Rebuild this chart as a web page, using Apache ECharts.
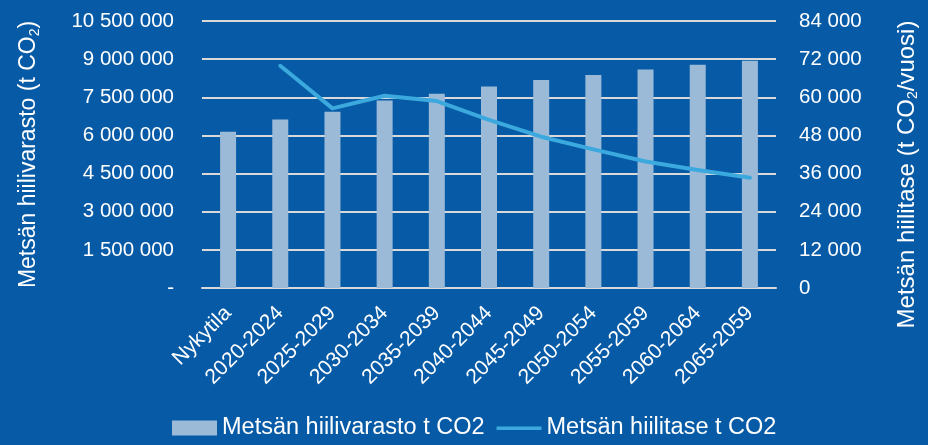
<!DOCTYPE html>
<html>
<head>
<meta charset="utf-8">
<script src="https://cdn.jsdelivr.net/npm/echarts@6/dist/echarts.min.js"></script>
<style>
html,body{margin:0;padding:0;background:#065aa6;}
#chart{width:928px;height:445px;}
</style>
</head>
<body>
<div id="chart"></div>
<script>
var categories = ['Nykytila','2020-2024','2025-2029','2030-2034','2035-2039','2040-2044','2045-2049','2050-2054','2055-2059','2060-2064','2065-2059'];
var hiilivarasto = [6140000, 6630000, 6930000, 7370000, 7640000, 7920000, 8180000, 8380000, 8590000, 8780000, 8940000];
var hiilitase = [null, 69900, 56500, 60500, 58800, 52900, 47600, 43600, 39800, 37100, 34700];
var leftTicks = {min: 0, max: 10500000, interval: 1500000};
var rightTicks = {min: 0, max: 84000, interval: 12000};

var FONT = '"Liberation Sans", Arial, sans-serif';
function fmt(v){
  return String(Math.round(v)).replace(/\B(?=(\d{3})+(?!\d))/g, ' ');
}
var chart = echarts.init(document.getElementById('chart'), null, {renderer:'canvas'});
chart.setOption({
  backgroundColor: '#065aa6',
  animation: false,
  textStyle: {fontFamily: FONT, color: '#ffffff'},
  grid: {left: 202, right: 147, top: 21, bottom: 157},
  legend: {
    bottom: 0, left: 167,
    itemWidth: 45, itemHeight: 15, itemGap: 12,
    textStyle: {color: '#ffffff', fontSize: 23.5, fontFamily: FONT},
    data: [
      {name: 'Metsän hiilivarasto t CO2', icon: 'rect'},
      {name: 'Metsän hiilitase t CO2', icon: 'path://M0,0 L0,0.01 M0,6 L45,6 L45,9.5 L0,9.5 Z M0,15 L0,15.01'}
    ]
  },
  xAxis: {
    type: 'category',
    data: categories,
    axisLine: {lineStyle: {color: '#d9d9d9', width: 2}},
    axisTick: {show: false},
    axisLabel: {rotate: 45, color: '#ffffff', fontSize: 21, fontFamily: FONT, margin: 22, interval: 0}
  },
  yAxis: [{
    type: 'value',
    min: leftTicks.min, max: leftTicks.max, interval: leftTicks.interval,
    name: 'Metsän hiilivarasto (t CO{s|2})',
    nameLocation: 'middle', nameGap: 160, nameRotate: 90,
    nameTextStyle: {color: '#ffffff', fontSize: 23, fontFamily: FONT,
      rich: {s: {fontSize: 14, verticalAlign: 'bottom', padding: [12,0,0,0], color:'#ffffff', fontFamily: FONT}}},
    axisLine: {show: false}, axisTick: {show: false},
    splitLine: {lineStyle: {color: '#d9d9d9', width: 2}},
    axisLabel: {color: '#ffffff', fontSize: 20.5, fontFamily: FONT, margin: 28,
      formatter: function(v){ return v === 0 ? '-' : fmt(v); }}
  }, {
    type: 'value',
    min: rightTicks.min, max: rightTicks.max, interval: rightTicks.interval,
    name: 'Metsän hiilitase (t CO{s|2}/vuosi)',
    nameLocation: 'middle', nameGap: 118, nameRotate: 90,
    nameTextStyle: {color: '#ffffff', fontSize: 24, fontFamily: FONT, padding: [0, 40, 0, 0],
      rich: {s: {fontSize: 14, verticalAlign: 'bottom', padding: [12,0,0,0], color:'#ffffff', fontFamily: FONT}}},
    axisLine: {show: false}, axisTick: {show: false},
    splitLine: {show: false},
    axisLabel: {color: '#ffffff', fontSize: 20.5, fontFamily: FONT, margin: 23,
      formatter: function(v){ return fmt(v); }}
  }],
  series: [{
    name: 'Metsän hiilivarasto t CO2',
    type: 'bar',
    data: hiilivarasto,
    yAxisIndex: 0,
    barWidth: 16,
    itemStyle: {color: '#9bbad8'},
    z: 2
  }, {
    name: 'Metsän hiilitase t CO2',
    type: 'line',
    data: hiilitase,
    yAxisIndex: 1,
    symbol: 'none',
    lineStyle: {color: '#3ba9dd', width: 4, cap: 'round', join: 'round'},
    itemStyle: {color: '#3ba9dd'},
    z: 3
  }]
});
</script>
</body>
</html>
